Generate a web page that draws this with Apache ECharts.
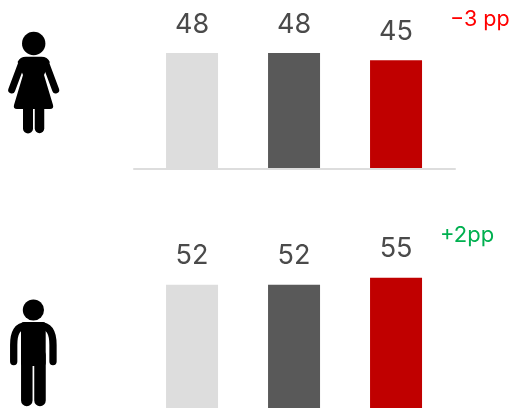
<!DOCTYPE html>
<html><head><meta charset="utf-8">
<style>html,body{margin:0;padding:0;background:#fff}#c{width:512px;height:408px}</style>
<script src="https://cdn.jsdelivr.net/npm/echarts@6/dist/echarts.min.js"></script>
</head><body><div id="c"></div>
<script>
const categories = ['A', 'B', 'C'];
const femaleValues = [48, 48, 45];
const maleValues = [52, 52, 55];
const barColors = ['#dddddd', '#595959', '#c00000'];
const femaleChange = '\u22123 pp';
const maleChange = '+2pp';
const FONT = 'Inter';

function pts(vals){
  return vals.map((v,i)=>({name:categories[i],value:[i,v],itemStyle:{color:barColors[i]}}));
}
function series(vals,idx){
  return {type:'bar',xAxisIndex:idx,yAxisIndex:idx,barWidth:52,data:pts(vals),silent:true,animation:false,
    label:{show:true,position:'top',distance:15,fontFamily:FONT,fontSize:27,fontWeight:400,color:'#4a4a4a',formatter:p=>p.value[1]}};
}
const hidden = {show:false};
const xBase = {type:'value',min:-0.569,max:2.578,splitLine:hidden,axisTick:hidden,axisLabel:hidden};

const iconSvg = `<svg xmlns="http://www.w3.org/2000/svg" width="70" height="408" viewBox="0 0 70 408">
<circle cx="33.7" cy="43.5" r="11.7"/>
<path d="M26 56.8H41.4Q47.5 56.8 49.8 62L44 75L53 105Q54 109 50 109H17Q13 109 14 105L23 75L17.6 62Q20 56.8 26 56.8Z"/>
<path d="M22 62.5L11.7 90M45.4 62.5L55.7 90" fill="none" stroke="#000" stroke-width="7" stroke-linecap="round"/>
<path d="M28 105V128.5" fill="none" stroke="#000" stroke-width="10" stroke-linecap="round"/>
<path d="M39.5 105V128.5" fill="none" stroke="#000" stroke-width="9.5" stroke-linecap="round"/>
<circle cx="33.4" cy="310" r="10.6"/>
<rect x="21" y="322" width="24.7" height="44" rx="3"/>
<path d="M27 325.7C17 325.7 13.7 333 13.7 345V361.5M39.7 325.7C49.7 325.7 53 333 53 345V361.5" fill="none" stroke="#000" stroke-width="7.3" stroke-linecap="round"/>
<path d="M26.8 355V400.5M40 355V400.5" fill="none" stroke="#000" stroke-width="11.5" stroke-linecap="round"/>
</svg>`;

const chart = echarts.init(document.getElementById('c'),null,{renderer:'canvas'});
function draw(img){
  chart.setOption({
    animation:false,
    backgroundColor:'#fff',
    grid:[
      {left:134,width:321,top:48.2,height:119.8},
      {left:134,width:321,top:265.8,height:143.8}
    ],
    xAxis:[
      Object.assign({gridIndex:0,offset:1,axisLine:{show:true,onZero:false,lineStyle:{color:'#dddddd',width:2}}},xBase),
      Object.assign({gridIndex:1,axisLine:hidden},xBase)
    ],
    yAxis:[
      {type:'value',gridIndex:0,min:0,max:50,show:false},
      {type:'value',gridIndex:1,min:0,max:60,show:false}
    ],
    series:[series(femaleValues,0),series(maleValues,1)],
    graphic:[
      {type:'image',x:0,y:0,style:{image:img,x:0,y:0,width:70,height:408}},
      {type:'text',x:450,y:9,style:{text:femaleChange,fontFamily:FONT,fontSize:21.5,fontWeight:400,fill:'#ff0000'}},
      {type:'text',x:440,y:224,style:{text:maleChange,fontFamily:FONT,fontSize:22,fontWeight:400,fill:'#00b050'}}
    ]
  });
}
draw('data:image/svg+xml;charset=utf-8,'+encodeURIComponent(iconSvg));
</script></body></html>
